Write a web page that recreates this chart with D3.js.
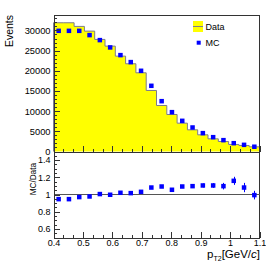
<!DOCTYPE html>
<html>
<head>
<meta charset="utf-8">
<script src="https://cdn.jsdelivr.net/npm/d3@7"></script>
<style>
  body { margin: 0; background: #fff; }
  text { font-family: "Liberation Sans", Arial, sans-serif; fill: #000; }
</style>
</head>
<body>
<div id="chart"></div>
<script>
// pT2 bin edges [GeV/c]
const binEdges = [0.4, 0.435, 0.47, 0.505, 0.54, 0.575, 0.61, 0.645, 0.68, 0.715, 0.75,
    0.785, 0.82, 0.855, 0.89, 0.925, 0.96, 0.995, 1.03, 1.065, 1.1];
const dataCounts = [31900, 31900, 31000, 29830, 27770, 26110, 23630, 21740, 19500, 15120,
    11400, 9170, 7020, 5370, 4130, 3140, 2480, 1740, 1490, 1160];
const mcCounts = [29900, 29900, 29900, 28840, 27600, 25790, 23880, 22150, 20000, 16280,
    12470, 9750, 7600, 5950, 4550, 3550, 2810, 2060, 1650, 1180];
const ratioValues = [0.946, 0.946, 0.970, 0.977, 1.005, 0.997, 1.020, 1.016, 1.031, 1.081,
    1.093, 1.055, 1.093, 1.097, 1.105, 1.105, 1.097, 1.159, 1.081, 0.993];
const ratioErrors = [0.008, 0.008, 0.008, 0.008, 0.009, 0.009, 0.010, 0.010, 0.011, 0.012,
    0.014, 0.016, 0.018, 0.020, 0.023, 0.027, 0.038, 0.047, 0.054, 0.050];
const eventTicks = [0, 5000, 10000, 15000, 20000, 25000, 30000];
const ratioTicks = [0.6, 0.8, 1, 1.2, 1.4];
const ptTicks = [0.4, 0.5, 0.6, 0.7, 0.8, 0.9, 1, 1.1];
const ptTickLabels = ["0.4", "0.5", "0.6", "0.7", "0.8", "0.9", "1", "1.1"];
const legendLabels = ["Data", "MC"];

/**
 * @namespace
 */
const chart = {};

chart.width = 266;
chart.height = 266;
chart.yellow = "#ffff00";
chart.blue = "#0000ff";
chart.histLine = "#7c7c8c";
chart.frame = "#333";

chart.svg = d3.select("#chart").append("svg")
    .attr("width", chart.width)
    .attr("height", chart.height);

chart.x = d3.scaleLinear().domain([0.4, 1.1]).range([53.5, 259.5]);
chart.yTop = d3.scaleLinear().domain([0, 33700]).range([151.5, 15.5]);
chart.yLow = d3.scaleLinear().domain([0.5, 1.5]).range([237.5, 151.5]);

chart.centers = function () {
    return dataCounts.map((d, i) => (binEdges[i] + binEdges[i + 1]) / 2);
}

chart.drawHist = function () {
    const x = chart.x, y = chart.yTop;
    const steps = [];
    dataCounts.forEach((c, i) => {
        steps.push([binEdges[i], c]);
        steps.push([binEdges[i + 1], c]);
    });
    chart.svg.append("path")
        .datum(steps)
        .attr("fill", chart.yellow)
        .attr("d", d3.area().x(d => x(d[0])).y0(y(0)).y1(d => y(d[1])));
    chart.svg.append("path")
        .datum([[binEdges[0], 0]].concat(steps))
        .attr("fill", "none")
        .attr("stroke", chart.histLine)
        .attr("stroke-width", 1)
        .attr("d", d3.line().x(d => x(d[0])).y(d => y(d[1])));
}

chart.drawMarkers = function (values, yScale, size) {
    const c = chart.centers();
    chart.svg.append("g")
        .selectAll("rect")
        .data(values)
        .join("rect")
        .attr("x", (d, i) => chart.x(c[i]) - size / 2)
        .attr("y", d => yScale(d) - size / 2)
        .attr("width", size)
        .attr("height", size)
        .attr("fill", chart.blue);
}

chart.drawRatioErrors = function () {
    const c = chart.centers();
    chart.svg.append("g")
        .selectAll("line")
        .data(ratioValues)
        .join("line")
        .attr("x1", (d, i) => Math.round(chart.x(c[i])) + 0.5)
        .attr("x2", (d, i) => Math.round(chart.x(c[i])) + 0.5)
        .attr("y1", (d, i) => chart.yLow(d - ratioErrors[i]))
        .attr("y2", (d, i) => chart.yLow(d + ratioErrors[i]))
        .attr("stroke", chart.blue)
        .attr("stroke-width", 1);
}

chart.styleAxis = function (g) {
    g.selectAll("path, line")
        .attr("stroke", chart.frame)
        .attr("shape-rendering", "crispEdges");
    g.selectAll("text").attr("fill", "#000");
}

chart.leftAxis = function (scale, ticks, minor, fmt, fontSize) {
    const [lo, hi] = scale.domain();
    chart.svg.append("g")
        .attr("transform", "translate(53.5,0)")
        .call(d3.axisLeft(scale).tickValues(d3.range(lo, hi + 1e-9, minor))
            .tickSize(-3).tickSizeOuter(0).tickFormat(""))
        .call(chart.styleAxis);
    chart.svg.append("g")
        .attr("transform", "translate(53.5,0)")
        .call(d3.axisLeft(scale).tickValues(ticks)
            .tickSize(-6).tickSizeOuter(0).tickPadding(3).tickFormat(fmt))
        .attr("font-size", fontSize)
        .attr("font-family", null)
        .call(chart.styleAxis);
}

chart.bottomAxis = function (yPos, labels) {
    chart.svg.append("g")
        .attr("transform", "translate(0," + yPos + ")")
        .call(d3.axisBottom(chart.x).tickValues(d3.range(0.4, 1.1001, 0.1 / 3))
            .tickSize(-3).tickSizeOuter(0).tickFormat(""))
        .call(chart.styleAxis);
    chart.svg.append("g")
        .attr("transform", "translate(0," + yPos + ")")
        .call(d3.axisBottom(chart.x).tickValues(ptTicks)
            .tickSize(-6).tickSizeOuter(0).tickPadding(2.5)
            .tickFormat((d, i) => labels ? ptTickLabels[i] : ""))
        .attr("font-size", 9)
        .attr("font-family", null)
        .call(chart.styleAxis);
}

chart.drawFrame = function () {
    const [x0, x1] = chart.x.range();
    chart.svg.append("path")
        .attr("d", "M" + x0 + "," + chart.yTop.range()[1] + "H" + x1 + "V" + chart.yLow.range()[0])
        .attr("fill", "none")
        .attr("stroke", chart.frame)
        .attr("shape-rendering", "crispEdges");
    chart.svg.append("line")
        .attr("x1", x0).attr("x2", x1)
        .attr("y1", chart.yLow(1)).attr("y2", chart.yLow(1))
        .attr("stroke", "#555")
        .attr("shape-rendering", "crispEdges");
}

chart.drawTitles = function () {
    chart.svg.append("text")
        .attr("transform", "translate(13,15) rotate(-90)")
        .attr("text-anchor", "end")
        .attr("font-size", 10.5)
        .text("Events");
    chart.svg.append("text")
        .attr("transform", "translate(35.5,163) rotate(-90)")
        .attr("text-anchor", "end")
        .attr("font-size", 8.2)
        .text("MC/Data");
    const t = chart.svg.append("text")
        .attr("x", 260)
        .attr("y", 257.5)
        .attr("text-anchor", "end")
        .attr("font-size", 11.5);
    t.append("tspan").text("p");
    t.append("tspan").attr("font-size", 7).attr("dy", 3).text("T2");
    t.append("tspan").attr("dy", -3).text("[GeV/");
    t.append("tspan").attr("font-style", "italic").text("c");
    t.append("tspan").text("]");
}

chart.drawLegend = function () {
    const g = chart.svg.append("g");
    g.append("rect")
        .attr("x", 193).attr("y", 21)
        .attr("width", 10).attr("height", 11)
        .attr("fill", chart.yellow);
    g.append("line")
        .attr("x1", 193).attr("x2", 203)
        .attr("y1", 26.5).attr("y2", 26.5)
        .attr("stroke", chart.histLine);
    g.append("rect")
        .attr("x", 196.7).attr("y", 40.7)
        .attr("width", 4).attr("height", 4)
        .attr("fill", chart.blue);
    g.selectAll("text")
        .data(legendLabels)
        .join("text")
        .attr("x", 205.5)
        .attr("y", (d, i) => 30.3 + i * 16)
        .attr("font-size", 9)
        .text(d => d);
}

//Main Script
chart.drawHist();
chart.drawMarkers(mcCounts, chart.yTop, 4.5);
chart.drawFrame();
chart.drawRatioErrors();
chart.drawMarkers(ratioValues, chart.yLow, 4.5);
chart.leftAxis(chart.yTop, eventTicks, 1000, d3.format("d"), 9.3);
chart.leftAxis(chart.yLow, ratioTicks, 0.05, d => String(+d.toFixed(1)), 9);
chart.bottomAxis(151.5, false);
chart.bottomAxis(237.5, true);
chart.drawTitles();
chart.drawLegend();
</script>
</body>
</html>
